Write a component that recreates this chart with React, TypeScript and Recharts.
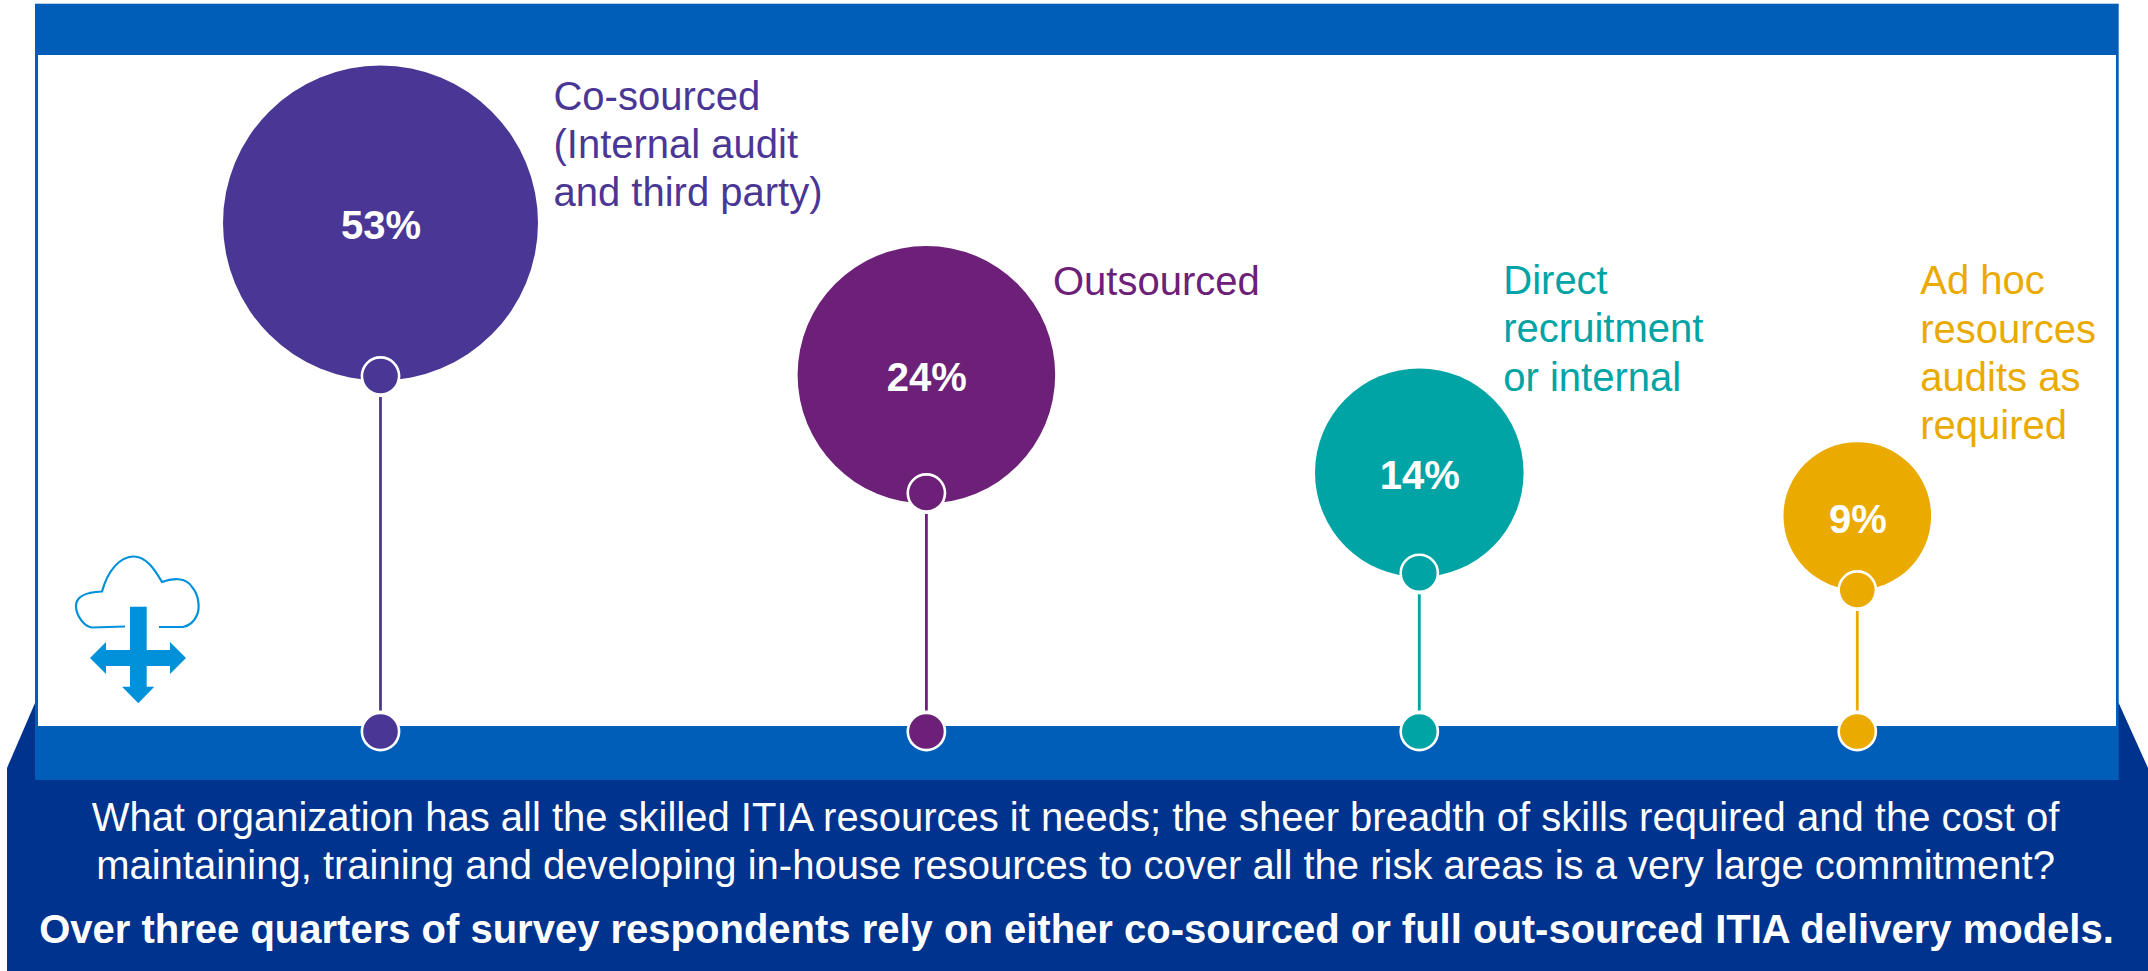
import { Scatter, ScatterChart, XAxis, YAxis } from "recharts"

const categoryLines = [
    ["Co-sourced", "(Internal audit", "and third party)"],
    ["Outsourced"],
    ["Direct", "recruitment", "or internal"],
    ["Ad hoc", "resources", "audits as", "required"],
]
const ranks = [1, 2, 3, 4]
const shares = [53, 24, 14, 9]
const colors = ["#4A3795", "#6C2077", "#00A4A4", "#EAAA00"]

const footerLines = [
    "What organization has all the skilled ITIA resources it needs; the sheer breadth of skills required and the cost of",
    "maintaining, training and developing in-house resources to cover all the risk areas is a very large commitment?",
]
const footerBold = "Over three quarters of survey respondents rely on either co-sourced or full out-sourced ITIA delivery models."

const WIDTH = 2148
const HEIGHT = 971
const BASELINE = 731.5
const FONT = '"Liberation Sans", Arial, sans-serif'
const BAND = "#005EB8"
const NAVY = "#00338D"
const ICON = "#0091DA"

// label offset from each anchor dot: [dx, dy of first line]
const labelOffsets: Record<number, [number, number]> = {
    1: [173, -266],
    2: [126.6, -198.5],
    3: [84, -279],
    4: [63, -295.5],
}

// piecewise linear scale, the columns and balloons aren't spaced evenly
function kneeScale(knots: number[], fractions: number[]) {
    let dom = [knots[0], knots[knots.length - 1]]
    let rng = [0, 1]
    const scale: any = (v: number) => {
        let i = 0
        while (i < knots.length - 2 && v > knots[i + 1]) i++
        const t = (v - knots[i]) / (knots[i + 1] - knots[i])
        const f = fractions[i] + t * (fractions[i + 1] - fractions[i])
        return rng[0] + f * (rng[1] - rng[0])
    }
    scale.domain = (d?: number[]) => {
        if (!d) return dom
        dom = d
        return scale
    }
    scale.range = (r?: number[]) => {
        if (!r) return rng
        rng = r
        return scale
    }
    scale.ticks = () => knots
    scale.copy = () => kneeScale(knots, fractions)
    return scale
}

const columnScale = kneeScale([0, 1, 2, 3, 4, 5], [0, 0.17714, 0.43128, 0.66075, 0.86466, 1])
const anchorScale = kneeScale([0, 9, 14, 24, 53, 100], [0, 0.19344, 0.21627, 0.32604, 0.48599, 1])
const balloonScale = kneeScale([0, 9, 14, 24, 53, 100], [0, 0.2946, 0.3538, 0.48763, 0.69515, 1])
const radiusScale = kneeScale([0, 9, 14, 24, 53], [0, 73.8, 104.3, 128.8, 157.5])

const rows = ranks.map((rank, i) => ({
    rank,
    value: shares[i],
    color: colors[i],
    lines: categoryLines[i],
}))
const baseRows = rows.map((r) => ({ ...r, value: 0 }))

function Balloon(props: any) {
    const { cx, cy, payload } = props
    return (
        <g>
            <circle cx={cx} cy={cy} r={radiusScale(payload.value)} fill={payload.color} />
            <text x={cx + 0.5} y={cy + 16.5} textAnchor="middle" fontFamily={FONT} fontSize={40} fontWeight="bold" fill="#fff">
                {payload.value}%
            </text>
        </g>
    )
}

function Anchor(props: any) {
    const { cx, cy, payload } = props
    const [dx, dy] = labelOffsets[payload.rank]
    return (
        <g>
            <line x1={cx} x2={cx} y1={cy + 21} y2={BASELINE - 21} stroke={payload.color} strokeWidth={2.8} />
            <circle cx={cx} cy={cy} r={18.6} fill={payload.color} stroke="#fff" strokeWidth={2.6} />
            <text fontFamily={FONT} fontSize={40} fill={payload.color}>
                {payload.lines.map((line: string, i: number) => (
                    <tspan key={line} x={cx + dx} y={cy + dy + i * 48.2}>
                        {line}
                    </tspan>
                ))}
            </text>
        </g>
    )
}

function BaseDot(props: any) {
    const { cx, cy, payload } = props
    return <circle cx={cx} cy={cy} r={18.6} fill={payload.color} stroke="#fff" strokeWidth={2.6} />
}

// frame, footer copy and the cloud icon sit behind the chart
function Backdrop() {
    return (
        <svg width={WIDTH} height={HEIGHT} style={{ position: "absolute", left: 0, top: 0 }}>
            <polygon points="7,768 35,703 2118.7,703 2148,768 2148,971 7,971" fill={NAVY} />
            <rect x={35} y={3.7} width={2083.7} height={776.3} fill={BAND} />
            <rect x={38} y={55} width={2078} height={671} fill="#fff" />

            <path
                d="M125 626.5 L92 627.5 C84 627 76 615 76 606 C76 596 88 592 102 591.5 C108 570 120 557 133 556.5 C146 556 155 570 162 582 C172 578 186 577 192 587 C199 595 200 608 197 615 C194 622 188 626 183 627 L159 627"
                fill="none"
                stroke={ICON}
                strokeWidth={2.2}
            />
            <polygon
                points="130,606.7 146.7,606.7 146.7,650 170,650 170,642 186,658 170,674 170,666 146.7,666 146.7,686.7 154.3,686.7 138.3,703.3 122,686.7 130,686.7 130,666 106,666 106,674 90,658 106,642 106,650 130,650"
                fill={ICON}
            />

            <g fontFamily={FONT} fontSize={40} fill="#fff" textAnchor="middle">
                <text x={1075.5} y={830.7}>{footerLines[0]}</text>
                <text x={1075.5} y={878.7}>{footerLines[1]}</text>
                <text x={1076.5} y={942.7} fontWeight="bold">{footerBold}</text>
            </g>
        </svg>
    )
}

export default function App() {
    return (
        <div style={{ position: "absolute", left: 0, top: 0, width: WIDTH, height: HEIGHT, background: "#fff" }}>
            <Backdrop />
            <div style={{ position: "absolute", left: 0, top: 0 }}>
                <ScatterChart width={WIDTH} height={HEIGHT} margin={{ top: 0, right: 0, left: 0, bottom: HEIGHT - BASELINE }}>
                    <XAxis type="number" dataKey="rank" domain={[0, 5]} scale={columnScale} hide />
                    <YAxis yAxisId="anchor" type="number" dataKey="value" domain={[0, 100]} scale={anchorScale} hide />
                    <YAxis yAxisId="balloon" type="number" dataKey="value" domain={[0, 100]} scale={balloonScale} hide />
                    <Scatter yAxisId="balloon" data={rows} shape={Balloon} isAnimationActive={false} />
                    <Scatter yAxisId="anchor" data={rows} shape={Anchor} isAnimationActive={false} />
                    <Scatter yAxisId="anchor" data={baseRows} shape={BaseDot} isAnimationActive={false} />
                </ScatterChart>
            </div>
        </div>
    )
}
